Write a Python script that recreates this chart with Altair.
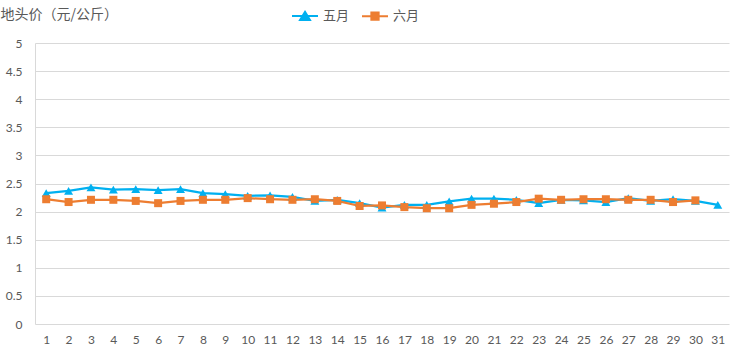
import altair as alt
import pandas as pd

days = list(range(1, 32))
may = [2.33, 2.37, 2.43, 2.39, 2.40, 2.38, 2.40, 2.33, 2.31, 2.28, 2.29, 2.26, 2.19, 2.21,
       2.15, 2.07, 2.12, 2.12, 2.18, 2.23, 2.23, 2.21, 2.15, 2.21, 2.20, 2.17, 2.24, 2.19,
       2.22, 2.19, 2.12]
june = [2.22, 2.17, 2.21, 2.21, 2.19, 2.15, 2.19, 2.21, 2.21, 2.24, 2.22, 2.21, 2.22, 2.19,
        2.10, 2.11, 2.08, 2.06, 2.06, 2.12, 2.14, 2.17, 2.23, 2.21, 2.22, 2.22, 2.21, 2.21,
        2.17, 2.20]
series = ["五月", "六月"]
colors = ["#00B0F0", "#ED7D31"]
y_ticks = [0, 0.5, 1, 1.5, 2, 2.5, 3, 3.5, 4, 4.5, 5]

rows = [{"day": d, "price": v, "series": "五月"} for d, v in zip(days, may)]
rows += [{"day": d, "price": v, "series": "六月"} for d, v in zip(days[:len(june)], june)]
df = pd.DataFrame(rows)

TXT = "#595959"
legend_paths = ["M-1,0H1M0,-0.32L0.38,0.3H-0.38Z", "M-1,0H1M-0.28,-0.28H0.28V0.28H-0.28Z"]

x_enc = alt.X("day:O", sort=days,
              axis=alt.Axis(labelAngle=0, ticks=False, domain=False, grid=False, title=None,
                            labelPadding=10, labelFont="Lato", labelFontSize=12, labelColor=TXT))
y_enc = alt.Y("price:Q", scale=alt.Scale(domain=[0, 5], nice=False, zero=True),
              axis=alt.Axis(values=y_ticks, format="~g", ticks=False, domain=True,
                            domainColor="#d9d9d9", gridColor="#d9d9d9", gridWidth=1,
                            labelPadding=13, labelFont="Lato", labelFontSize=12, labelColor=TXT,
                            title="地头价（元/公斤）", titleAngle=0, titleAlign="left",
                            titleBaseline="middle", titleX=-35, titleY=-29,
                            titleFont="Noto Sans CJK SC", titleFontSize=14,
                            titleFontWeight="normal", titleColor=TXT))

base = alt.Chart(df)

layers = []
for name, col in zip(series, colors):
    layers.append(base.transform_filter(alt.datum.series == name)
                  .mark_line(strokeWidth=2.25, color=col).encode(x=x_enc, y=y_enc))
layers.append(base.transform_filter(alt.datum.series == series[0]).mark_point(
    filled=True, opacity=1, shape="triangle-up", size=80, color=colors[0]
).encode(x=x_enc, y=y_enc))
layers.append(base.transform_filter(alt.datum.series == series[1]).mark_point(
    filled=True, opacity=1, shape="square", size=64, color=colors[1]
).encode(x=x_enc, y=y_enc))

legend = alt.Legend(
    title=None, orient="none", legendX=256, legendY=-41, direction="horizontal",
    symbolSize=676, symbolStrokeWidth=2, symbolOpacity=1,
    labelFont="Noto Sans CJK SC", labelFontSize=13,
    labelColor=TXT, labelOffset=4, columnPadding=8,
)
legend_layer = base.transform_filter("datum.day > 100").mark_point(filled=True, opacity=1).encode(
    x=x_enc, y=y_enc,
    fill=alt.Fill("series:N", scale=alt.Scale(domain=series, range=colors), legend=legend),
    stroke=alt.Stroke("series:N", scale=alt.Scale(domain=series, range=colors), legend=legend),
    shape=alt.Shape("series:N", scale=alt.Scale(domain=series, range=legend_paths), legend=legend),
)
layers.append(legend_layer)

chart = alt.layer(*layers).properties(
    width=694, height=281,
    autosize=alt.AutoSizeParams(type="none"),
    padding={"left": 35, "top": 43, "right": 2, "bottom": 28},
).configure_view(stroke=None)

chart.save("out.html", embed_options={"renderer": "svg", "actions": False})
